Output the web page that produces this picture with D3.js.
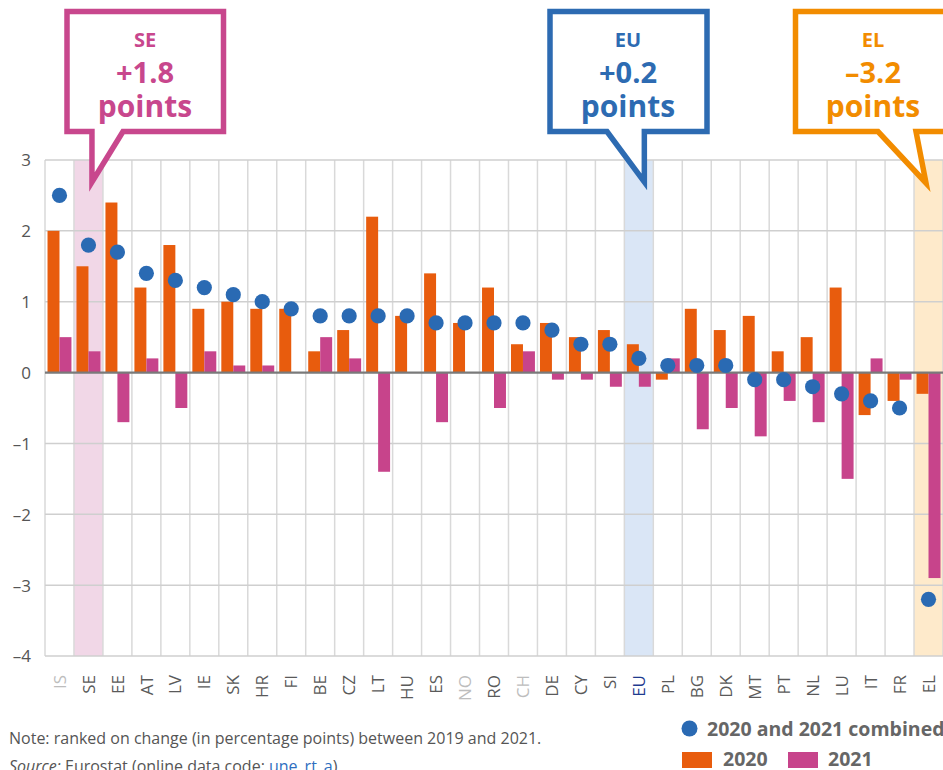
<!DOCTYPE html>
<html>
<head>
<meta charset="utf-8">
<script src="https://cdn.jsdelivr.net/npm/d3@7"></script>
<style>
  html, body { margin: 0; padding: 0; background: #fff; overflow: hidden; }
  svg { display: block; }
</style>
</head>
<body>
<svg id="chart" width="943" height="770"></svg>
<script>
// ---------- DATA ----------
const categories = ["IS","SE","EE","AT","LV","IE","SK","HR","FI","BE","CZ","LT","HU","ES","NO","RO","CH","DE","CY","SI","EU","PL","BG","DK","MT","PT","NL","LU","IT","FR","EL"];
const values2020 = [2.0,1.5,2.4,1.2,1.8,0.9,1.0,0.9,0.9,0.3,0.6,2.2,0.8,1.4,0.7,1.2,0.4,0.7,0.5,0.6,0.4,-0.1,0.9,0.6,0.8,0.3,0.5,1.2,-0.6,-0.4,-0.3];
const values2021 = [0.5,0.3,-0.7,0.2,-0.5,0.3,0.1,0.1,0.0,0.5,0.2,-1.4,0.0,-0.7,0.0,-0.5,0.3,-0.1,-0.1,-0.2,-0.2,0.2,-0.8,-0.5,-0.9,-0.4,-0.7,-1.5,0.2,-0.1,-2.9];
const combined   = [2.5,1.8,1.7,1.4,1.3,1.2,1.1,1.0,0.9,0.8,0.8,0.8,0.8,0.7,0.7,0.7,0.7,0.6,0.4,0.4,0.2,0.1,0.1,0.1,-0.1,-0.1,-0.2,-0.3,-0.4,-0.5,-3.2];
const yTicks = [3,2,1,0,-1,-2,-3,-4];
const seriesNames = ["2020","2021"];
const combinedName = "2020 and 2021 combined";
const calloutCats = ["SE","EU","EL"];
const greyedCats = ["IS","NO","CH"];
const noteText = "Note: ranked on change (in percentage points) between 2019 and 2021.";

// ---------- STYLES ----------
const C2020 = "#E85C0D", C2021 = "#C7448B", CDOT = "#2A6AB3";
const calloutStyle = {
  SE: {stroke: "#C8478D", band: "#F1D7E7"},
  EU: {stroke: "#2D6BB2", band: "#DAE6F6"},
  EL: {stroke: "#F28C00", band: "#FEEACB"}
};
const FONT = "'Open Sans', 'Noto Sans', sans-serif";

const svg = d3.select("#chart");
const L = 45, R = 943, T = 160, B = 656;

const x = d3.scaleBand().domain(categories).range([L, R]).padding(0);
const y = d3.scaleLinear().domain([-4, 3]).range([B, T]);
const xi = d3.scaleBand().domain(seriesNames).range([0, x.bandwidth()]).paddingInner(0).paddingOuter(0.21);
const fmtSigned = v => (v >= 0 ? "+" : "\u2013") + d3.format(".1f")(Math.abs(v));

// highlight bands
calloutCats.forEach(c => {
  svg.append("rect").attr("x", x(c)).attr("y", T).attr("width", x.bandwidth()).attr("height", B - T)
    .attr("fill", calloutStyle[c].band);
});

// vertical gridlines
const g = svg.append("g");
d3.range(categories.length + 1).forEach(i => {
  const xx = L + i * x.step();
  g.append("line").attr("x1", xx).attr("x2", xx).attr("y1", T).attr("y2", B)
    .attr("stroke", "#d9d9d9").attr("stroke-width", 1.5);
});
// horizontal gridlines
yTicks.filter(t => t !== 0).forEach(t => {
  g.append("line").attr("x1", L).attr("x2", R).attr("y1", y(t)).attr("y2", y(t))
    .attr("stroke", "#cfcfcf").attr("stroke-width", 1.5);
});

// y axis labels
const yAxis = d3.axisLeft(y).tickValues(yTicks).tickSize(0).tickPadding(0)
  .tickFormat(d => d < 0 ? "\u2013" + Math.abs(d) : d);
const ya = svg.append("g").attr("transform", `translate(31,0)`).call(yAxis);
ya.select(".domain").remove();
ya.selectAll("text").attr("font-family", FONT).attr("font-size", 17).attr("fill", "#555").attr("dy", "0.35em");

// bars
const bars = svg.append("g");
categories.forEach((c, i) => {
  [values2020[i], values2021[i]].forEach((v, k) => {
    bars.append("rect")
      .attr("x", x(c) + xi(seriesNames[k]))
      .attr("width", xi.bandwidth())
      .attr("y", y(Math.max(0, v)))
      .attr("height", Math.abs(y(v) - y(0)))
      .attr("fill", k === 0 ? C2020 : C2021);
  });
});

// zero line
svg.append("line").attr("x1", L).attr("x2", R).attr("y1", y(0)).attr("y2", y(0))
  .attr("stroke", "#7a7a7a").attr("stroke-width", 2.2);

// dots
svg.append("g").selectAll("circle").data(categories).join("circle")
  .attr("cx", d => x(d) + x.bandwidth() / 2)
  .attr("cy", (d, i) => y(combined[i]))
  .attr("r", 7.6).attr("fill", CDOT);

// x labels
const xAxis = d3.axisBottom(x).tickSize(0).tickPadding(0);
const xa = svg.append("g").attr("transform", `translate(0,${B})`).call(xAxis);
xa.select(".domain").remove();
xa.selectAll(".tick text")
  .attr("font-family", FONT).attr("font-size", 17)
  .attr("text-anchor", "end")
  .attr("transform", "translate(0,19) rotate(-90)")
  .attr("x", 0).attr("y", 0).attr("dy", "0.36em")
  .attr("fill", d => d === "EU" ? "#1F3B8F" : (greyedCats.includes(d) ? "#bdbdbd" : "#5a5a5a"));

// callouts
const boxes = {
  SE: {x0: 67, x1: 223.5, tx: 145, path: (cx) => `M67,11.5 H223.5 V131.5 H123 L${cx+3.5},182 V131.5 H67 Z`},
  EU: {x0: 550, x1: 707, tx: 628, path: (cx) => `M550,11.5 H707 V131.5 H${cx+5.5} V182 L607,131.5 H550 Z`},
  EL: {x0: 795.5, x1: 960, tx: 873, path: (cx) => `M795.5,11.5 H960 V131.5 H916 L${cx-2.5},183 L878,131.5 H795.5 Z`}
};
calloutCats.forEach(c => {
  const i = categories.indexOf(c);
  const cx = x(c) + x.bandwidth() / 2;
  const b = boxes[c];
  const col = calloutStyle[c].stroke;
  svg.append("path").attr("d", b.path(cx)).attr("fill", "#fff").attr("stroke", col)
    .attr("stroke-width", 5.5).attr("stroke-linejoin", "miter");
  svg.append("text").attr("x", b.tx).attr("y", 47).attr("text-anchor", "middle")
    .attr("font-family", FONT).attr("font-weight", 700).attr("font-size", 20).attr("fill", col).text(c);
  svg.append("text").attr("x", b.tx).attr("y", 83).attr("text-anchor", "middle")
    .attr("font-family", FONT).attr("font-weight", 700).attr("font-size", 29).attr("fill", col)
    .text(fmtSigned(combined[i]));
  svg.append("text").attr("x", b.tx).attr("y", 117).attr("text-anchor", "middle")
    .attr("font-family", FONT).attr("font-weight", 700).attr("font-size", 30).attr("fill", col).text("points");
});

// note & source
svg.append("text").attr("x", 9).attr("y", 744).attr("font-family", FONT).attr("font-size", 16)
  .attr("fill", "#555").text(noteText);
const src = svg.append("text").attr("x", 9).attr("y", 772).attr("font-family", FONT).attr("font-size", 16).attr("fill", "#555");
src.append("tspan").attr("font-style", "italic").text("Source:");
src.append("tspan").text(" Eurostat (online data code: ");
src.append("tspan").attr("fill", "#2E6EC0").attr("text-decoration", "underline").text("une_rt_a");
src.append("tspan").text(")");

// legend
const lg = svg.append("g").attr("font-family", FONT).attr("font-weight", 700).attr("font-size", 19.5).attr("fill", "#666");
lg.append("circle").attr("cx", 689.5).attr("cy", 728.5).attr("r", 8).attr("fill", CDOT);
lg.append("text").attr("x", 707).attr("y", 735.5).text(combinedName);
lg.append("rect").attr("x", 682).attr("y", 752).attr("width", 30).attr("height", 16).attr("fill", C2020);
lg.append("text").attr("x", 723).attr("y", 766).text(seriesNames[0]);
lg.append("rect").attr("x", 788).attr("y", 752).attr("width", 30).attr("height", 16).attr("fill", C2021);
lg.append("text").attr("x", 828).attr("y", 766).text(seriesNames[1]);
</script>
</body>
</html>
